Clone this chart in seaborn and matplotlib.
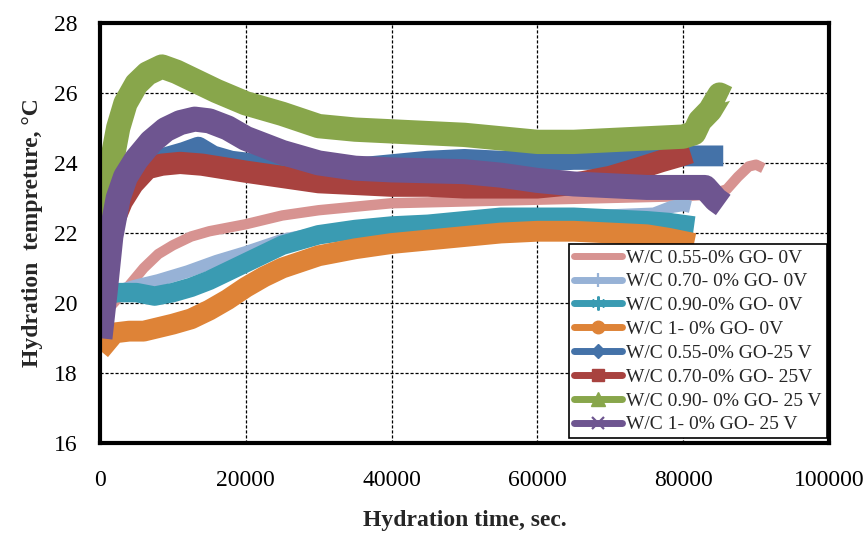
import matplotlib
matplotlib.use("Agg")
import matplotlib.pyplot as plt
from matplotlib.lines import Line2D
import seaborn as sns
import pandas as pd

# ---- hydration temperature records (time in s, temperature in degC) ----
labels = [
    "W/C 0.55-0% GO- 0V",
    "W/C 0.70- 0% GO- 0V",
    "W/C 0.90-0% GO- 0V",
    "W/C 1- 0% GO- 0V",
    "W/C 0.55-0% GO-25 V",
    "W/C 0.70-0% GO- 25V",
    "W/C 0.90- 0% GO- 25 V",
    "W/C 1- 0% GO- 25 V",
]

t_055_0v = [0, 1000, 2500, 4000, 6000, 8000, 10000, 12500, 15000, 17500, 20000, 25000,
            30000, 35000, 40000, 50000, 60000, 70000, 80000, 84000, 86000, 87500, 89000,
            90000, 91000]
T_055_0v = [19.6, 19.8, 20.15, 20.5, 21.0, 21.4, 21.65, 21.9, 22.05, 22.15, 22.25, 22.5,
            22.65, 22.75, 22.85, 22.9, 22.95, 23.0, 23.05, 23.1, 23.25, 23.6, 23.9,
            23.95, 23.85]

t_070_0v = [0, 1000, 2500, 5000, 8000, 12000, 16000, 20000, 25000, 30000, 35000, 40000,
            50000, 60000, 70000, 76000, 78500, 80000, 81000]
T_070_0v = [20.1, 20.25, 20.35, 20.5, 20.65, 20.9, 21.2, 21.45, 21.8, 22.0, 22.15, 22.25,
            22.35, 22.45, 22.5, 22.55, 22.75, 22.8, 22.75]

t_090_0v = [0, 1000, 2500, 5000, 7500, 10000, 12500, 15000, 17500, 20000, 22500, 25000,
            30000, 35000, 40000, 45000, 50000, 55000, 60000, 65000, 70000, 75000, 78000,
            81500]
T_090_0v = [20.2, 20.25, 20.3, 20.3, 20.2, 20.3, 20.45, 20.65, 20.9, 21.15, 21.4, 21.65,
            21.95, 22.1, 22.2, 22.25, 22.35, 22.45, 22.45, 22.45, 22.4, 22.35, 22.3, 22.2]

t_100_0v = [0, 800, 2000, 4000, 6000, 8000, 10000, 12500, 15000, 17500, 20000, 22500,
            25000, 30000, 35000, 40000, 45000, 50000, 55000, 60000, 65000, 70000, 75000,
            78000, 81500]
T_100_0v = [18.65, 18.85, 19.15, 19.2, 19.2, 19.3, 19.4, 19.55, 19.8, 20.1, 20.45, 20.75,
            21.0, 21.35, 21.55, 21.7, 21.8, 21.9, 22.0, 22.05, 22.05, 22.0, 21.95, 21.85,
            21.7]

t_055_25v = [0, 800, 1800, 3000, 4500, 6500, 9000, 11500, 13500, 15500, 18000, 20000,
             25000, 30000, 35000, 40000, 45000, 50000, 55000, 60000, 65000, 70000, 75000,
             80000, 85500]
T_055_25v = [20.3, 21.2, 22.5, 23.5, 23.9, 24.05, 24.15, 24.3, 24.45, 24.2, 24.05, 24.0,
             23.85, 23.8, 23.85, 23.95, 24.05, 24.1, 24.05, 24.05, 24.1, 24.1, 24.15, 24.2,
             24.2]

t_070_25v = [0, 800, 1800, 3000, 4500, 6500, 8500, 11000, 14000, 17000, 20000, 25000,
             30000, 35000, 40000, 45000, 50000, 55000, 60000, 65000, 70000, 74000, 77000,
             79500, 81000]
T_070_25v = [20.9, 21.4, 22.3, 22.9, 23.4, 23.85, 23.95, 24.0, 23.95, 23.85, 23.75, 23.6,
             23.45, 23.4, 23.35, 23.35, 23.3, 23.3, 23.3, 23.4, 23.6, 23.85, 24.05, 24.2,
             24.3]

t_090_25v = [0, 700, 1500, 2500, 3500, 5000, 6500, 8500, 10500, 13000, 16000, 20000,
             25000, 30000, 35000, 40000, 45000, 50000, 55000, 60000, 65000, 70000, 75000,
             80000, 81500, 82300, 83700, 85000, 86000]
T_090_25v = [21.6, 22.8, 23.9, 25.0, 25.7, 26.25, 26.55, 26.75, 26.6, 26.35, 26.05, 25.7,
             25.4, 25.05, 24.95, 24.9, 24.85, 24.8, 24.7, 24.6, 24.6, 24.65, 24.7, 24.75,
             24.85, 25.2, 25.5, 25.95, 25.85]

t_100_25v = [0, 700, 1500, 2500, 3500, 5000, 7000, 9000, 11000, 13000, 15000, 17500,
             20000, 25000, 30000, 35000, 40000, 50000, 55000, 60000, 65000, 70000, 75000,
             80000, 83000, 84500, 85500]
T_100_25v = [19.0, 20.3, 21.9, 23.0, 23.6, 24.1, 24.6, 24.95, 25.15, 25.25, 25.2, 25.0,
             24.7, 24.3, 24.0, 23.85, 23.8, 23.75, 23.65, 23.5, 23.4, 23.35, 23.3, 23.3,
             23.3, 22.95, 22.8]

times = [t_055_0v, t_070_0v, t_090_0v, t_100_0v, t_055_25v, t_070_25v, t_090_25v, t_100_25v]
temps = [T_055_0v, T_070_0v, T_090_0v, T_100_0v, T_055_25v, T_070_25v, T_090_25v, T_100_25v]

x_ticks = [0, 20000, 40000, 60000, 80000, 100000]
y_ticks = [16, 18, 20, 22, 24, 26, 28]

# ---- styling ----
colors = ["#D79391", "#97B2D6", "#3A9BB2", "#DE8337", "#4472A8", "#A8423F", "#88A64B", "#6E5590"]
band_widths = [7.5, 9.0, 14.0, 15.0, 15.0, 16.0, 17.5, 18.0]
markers = [None, "+", (6, 2, 0), "o", "D", "s", "^", "x"]
marker_sizes = [0, 10, 10, 9, 7, 9, 9.5, 9]

sns.set_theme(style="white")
plt.rcParams["font.family"] = ["Liberation Serif", "DejaVu Serif"]

frames = []
for lab, t, T in zip(labels, times, temps):
    frames.append(pd.DataFrame({"time": t, "temp": T, "series": lab}))
data = pd.concat(frames, ignore_index=True)

fig = plt.figure(figsize=(8.67, 5.41), dpi=100)
ax = fig.add_axes([0.1153, 0.1806, 0.8408, 0.7774])

for lab, col, lw in zip(labels, colors, band_widths):
    sub = data[data["series"] == lab]
    sns.lineplot(data=sub, x="time", y="temp", color=col, linewidth=lw, sort=False,
                 estimator=None, legend=False, ax=ax,
                 solid_joinstyle="round", solid_capstyle="butt")

ax.set_xlim(0, 100000)
ax.set_ylim(16, 28)
ax.set_xticks(x_ticks)
ax.set_yticks(y_ticks)
ax.set_xticklabels([str(v) for v in x_ticks])
ax.set_yticklabels([str(v) for v in y_ticks])

ax.set_axisbelow(True)
ax.grid(True, color="black", linestyle=(0, (2.5, 1.5)), linewidth=0.9)
for sp in ax.spines.values():
    sp.set_visible(True)
    sp.set_color("black")
    sp.set_linewidth(3.0)

ax.tick_params(axis="both", direction="out", length=6, width=1, color="#808080",
               labelsize=17, labelcolor="black")
ax.tick_params(axis="x", pad=13)
ax.tick_params(axis="y", pad=10)

ax.set_xlabel("Hydration time, sec.", fontsize=17, fontweight="bold", labelpad=14)
ax.set_ylabel("Hydration  tempreture, °C", fontsize=17, fontweight="bold", labelpad=8)

handles = []
for lab, col, mk, ms in zip(labels, colors, markers, marker_sizes):
    handles.append(Line2D([], [], color=col, linewidth=5, marker=mk, markersize=ms,
                          markeredgewidth=1.6 if mk in ("+", "x", (6, 2, 0)) else 1.0,
                          markerfacecolor=col, markeredgecolor=col, label=lab))

leg = ax.legend(handles=handles, loc="lower right", bbox_to_anchor=(0.997, 0.012),
                borderaxespad=0, fontsize=14, frameon=True, fancybox=False,
                edgecolor="black", handlelength=2.5, handletextpad=0.2,
                labelspacing=0.32, borderpad=0.25)
leg.get_frame().set_linewidth(1.2)
leg.get_frame().set_alpha(1)

fig.savefig("out.png", dpi=100)
